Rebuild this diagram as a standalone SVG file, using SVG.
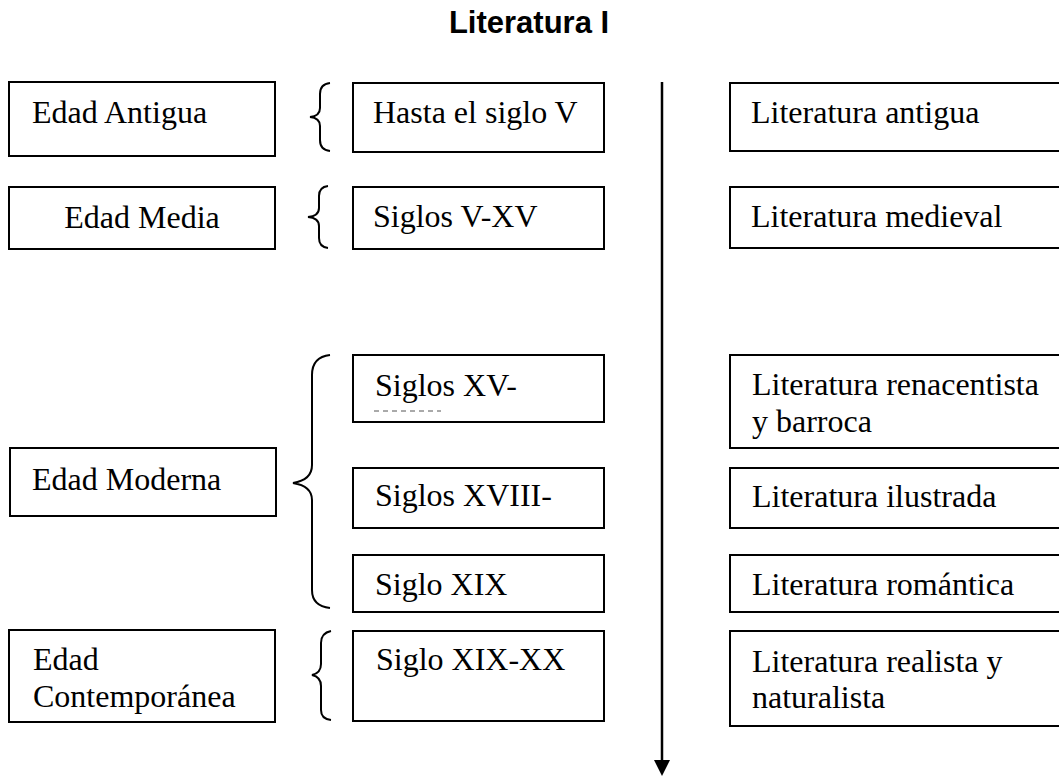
<svg xmlns="http://www.w3.org/2000/svg" width="1059" height="778" viewBox="0 0 1059 778">
<style>
.box{fill:#fff;stroke:#000;stroke-width:2}
.t{font-family:"Liberation Serif","Times New Roman",serif;font-size:32px;fill:#000}
.c{text-anchor:middle}
.brace{fill:none;stroke:#000;stroke-width:2}
.title{font-family:"Liberation Sans",Arial,sans-serif;font-size:31px;font-weight:bold;fill:#000;text-anchor:middle}
</style>
<defs>
<marker id="ah" markerWidth="16" markerHeight="16" refX="8" refY="15" orient="auto" markerUnits="userSpaceOnUse" viewBox="0 0 16 16">
<path d="M0,0 L16,0 L8,15 Z" fill="#000"/>
</marker>
</defs>
<rect width="1059" height="778" fill="#fff"/>
<text class="title" x="529" y="33">Literatura I</text>

<g id="connectors">
<line x1="662" y1="82" x2="662" y2="760" stroke="#000" stroke-width="2.5"/>
<path d="M654,760 L670,760 L662,776 Z" fill="#000"/>
<path class="brace" d="M330,83 Q320,84 320,94 L320,108 Q320,116 310,117 Q320,118 320,126 L320,140 Q320,150 330,151"/>
<path class="brace" d="M328,186 Q319,187 319,196 L319,208 Q319,216 308,217 Q319,218 319,226 L319,238 Q319,247 328,248"/>
<path class="brace" d="M330,355 Q312,357 312,375 L312,465 Q312,480 293,483 Q312,486 312,500 L312,590 Q312,606 330,608"/>
<path class="brace" d="M331,631 Q321,633 321,643 L321,664 Q321,673 312,675 Q321,677 321,686 L321,710 Q321,719 331,720"/>
</g>

<g id="edad-antigua"><rect class="box" x="9" y="82" width="266" height="74"/><text class="t" x="32" y="123">Edad Antigua</text></g>
<g id="edad-media"><rect class="box" x="9" y="187" width="266" height="62"/><text class="t c" x="142" y="228">Edad Media</text></g>
<g id="edad-moderna"><rect class="box" x="10" y="448" width="266" height="68"/><text class="t" x="32" y="490">Edad Moderna</text></g>
<g id="edad-contemporanea"><rect class="box" x="9" y="630" width="266" height="92"/><text class="t" x="33" y="670">Edad</text><text class="t" x="33" y="707">Contemporánea</text></g>

<g id="hasta-siglo-v"><rect class="box" x="353" y="83" width="251" height="69"/><text class="t" x="373" y="123">Hasta el siglo V</text></g>
<g id="siglos-v-xv"><rect class="box" x="353" y="187" width="251" height="62"/><text class="t" x="373" y="227">Siglos V-XV</text></g>
<g id="siglos-xv"><rect class="box" x="353" y="355" width="251" height="67"/><text class="t" x="375" y="396">Siglos XV-</text><line x1="374" y1="411" x2="441" y2="411" stroke="#555" stroke-width="1" stroke-dasharray="5 4"/></g>
<g id="siglos-xviii"><rect class="box" x="353" y="468" width="251" height="60"/><text class="t" x="375" y="506">Siglos XVIII-</text></g>
<g id="siglo-xix"><rect class="box" x="353" y="555" width="251" height="57"/><text class="t" x="375" y="595">Siglo XIX</text></g>
<g id="siglo-xix-xx"><rect class="box" x="353" y="631" width="251" height="90"/><text class="t" x="376" y="670">Siglo XIX-XX</text></g>

<g id="lit-antigua"><rect class="box" x="730" y="83" width="340" height="68"/><text class="t" x="751" y="123">Literatura antigua</text></g>
<g id="lit-medieval"><rect class="box" x="730" y="187" width="340" height="61"/><text class="t" x="751" y="227">Literatura medieval</text></g>
<g id="lit-renacentista"><rect class="box" x="730" y="355" width="340" height="93"/><text class="t" x="752" y="395">Literatura renacentista</text><text class="t" x="752" y="432">y barroca</text></g>
<g id="lit-ilustrada"><rect class="box" x="730" y="468" width="340" height="60"/><text class="t" x="752" y="507">Literatura ilustrada</text></g>
<g id="lit-romantica"><rect class="box" x="730" y="555" width="340" height="57"/><text class="t" x="752" y="595">Literatura romántica</text></g>
<g id="lit-realista"><rect class="box" x="730" y="631" width="340" height="95"/><text class="t" x="752" y="672">Literatura realista y</text><text class="t" x="752" y="708">naturalista</text></g>
</svg>
